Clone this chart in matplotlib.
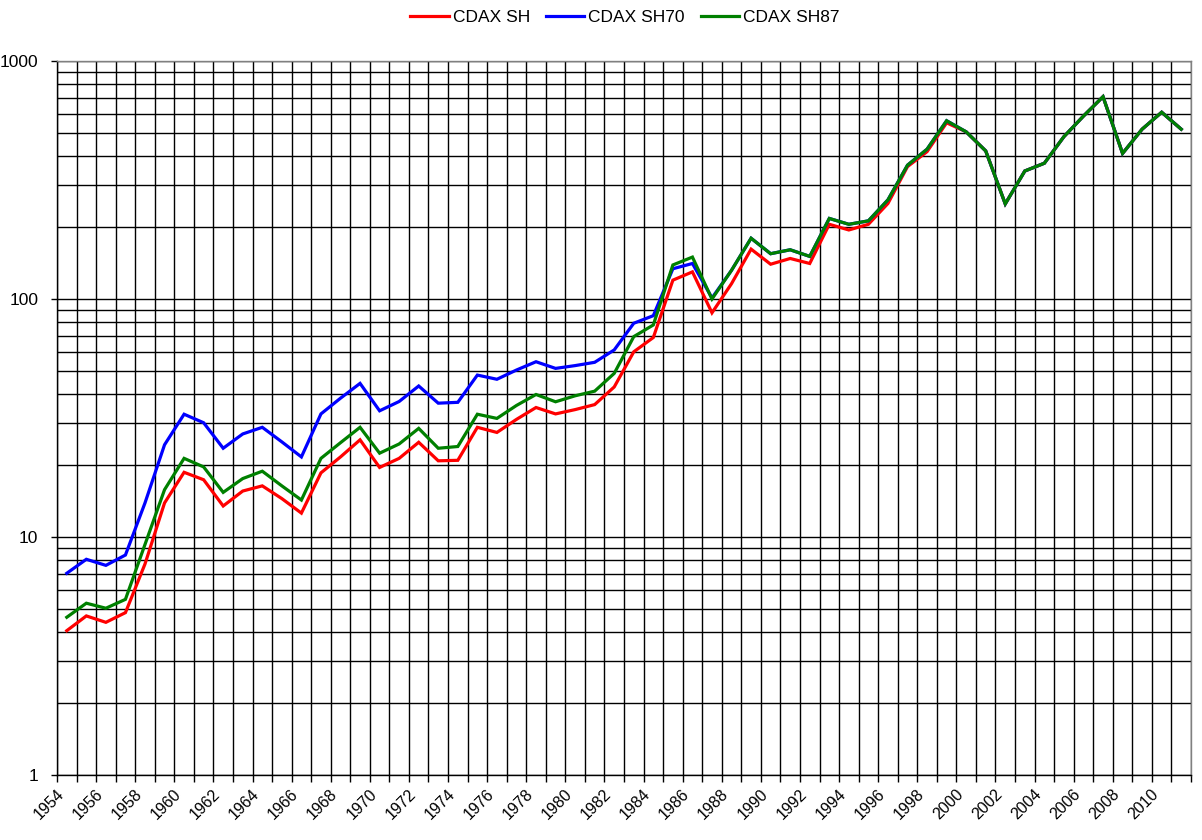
import matplotlib
matplotlib.use("Agg")
import matplotlib.pyplot as plt
from matplotlib.ticker import FixedLocator, NullFormatter, FixedFormatter
import numpy as np

plt.rcParams['font.family'] = ['Liberation Sans', 'DejaVu Sans']

years = list(range(1954, 2012))

cdax_sh = [4.04, 4.66, 4.38, 4.81, 7.7, 13.9, 18.7, 17.4, 13.5, 15.6,
           16.4, 14.5, 12.6, 18.6, 21.7, 25.6, 19.6, 21.4, 25.0, 20.9,
           21.0, 28.9, 27.5, 31.2, 35.0, 32.9, 34.3, 36.0, 42.7, 60.0,
           68.9, 120, 130, 87.5, 116, 162, 140, 148, 141, 206,
           195, 206, 252, 360, 416, 550, 504, 419, 251, 345,
           372, 481, 587, 708, 409, 517, 609, 517]

cdax_sh70 = [7.04, 8.06, 7.6, 8.4, 13.9, 24.4, 32.8, 30.2, 23.6, 27.1,
             28.9, 25.1, 21.7, 32.9, 38.3, 44.2, 33.9, 37.1, 43.1, 36.5,
             36.8, 47.9, 46.0, 50.3, 54.5, 51.1, 52.5, 54.2, 61.1, 79.1,
             85.1, 134, 141, 101, 132, 180, 155, 161, 151, 218,
             206, 213, 261, 365, 426, 561, 504, 419, 251, 345,
             372, 481, 587, 708, 409, 517, 609, 517]

cdax_sh87 = [4.6, 5.27, 5.02, 5.47, 9.3, 15.8, 21.4, 19.7, 15.4, 17.6,
             18.9, 16.4, 14.3, 21.4, 24.9, 28.9, 22.5, 24.6, 28.6, 23.6,
             24.0, 32.8, 31.5, 35.7, 39.7, 37.0, 39.2, 41.0, 48.7, 69.5,
             77.8, 139, 150, 100, 132, 180, 155, 161, 151, 218,
             206, 213, 261, 365, 426, 561, 504, 419, 251, 345,
             372, 481, 587, 708, 409, 517, 609, 517]

series_names = ['CDAX SH', 'CDAX SH70', 'CDAX SH87']
series_colors = ['#FF0000', '#0000FF', '#008000']
y_ticks = [1, 10, 100, 1000]

fig = plt.figure(figsize=(12.02, 8.40), dpi=100)
ax = fig.add_axes([57/1202, 65/840, (1191-57)/1202, (775-61)/840])

x = np.arange(len(years))
for vals, name, col in zip([cdax_sh, cdax_sh70, cdax_sh87], series_names, series_colors):
    ax.plot(x, vals, color=col, lw=2.3, label=name, solid_joinstyle='miter', zorder=3)

ax.set_yscale('log')
ax.set_ylim(1, 1000)
ax.set_xlim(-0.5, len(years) - 0.5)

# y axis
ax.yaxis.set_major_locator(FixedLocator(y_ticks))
ax.yaxis.set_major_formatter(FixedFormatter([str(t) for t in y_ticks]))
minor_y = [m * 10**d for d in range(0, 3) for m in range(2, 10)]
ax.yaxis.set_minor_locator(FixedLocator(minor_y))
ax.yaxis.set_minor_formatter(NullFormatter())
ax.tick_params(axis='y', which='major', length=4.5, width=1, pad=9, labelsize=12.5, color='black')
ax.tick_params(axis='y', which='minor', length=0)

# x axis: labels every 2 years at category centres, ticks at boundaries
ax.xaxis.set_major_locator(FixedLocator(x[::2]))
ax.xaxis.set_major_formatter(FixedFormatter([str(y) for y in years[::2]]))
ax.xaxis.set_minor_locator(FixedLocator(np.arange(-0.5, len(years), 1.0)))
ax.tick_params(axis='x', which='major', length=0, pad=8, labelsize=11.5)
ax.tick_params(axis='x', which='minor', length=5, width=1, color='black')
for lbl in ax.get_xticklabels():
    lbl.set_rotation(45)
    lbl.set_ha('right')
    lbl.set_va('top')

ax.grid(False)
ax.grid(True, axis='y', which='both', color='black', lw=1.0, zorder=1)
ax.grid(True, axis='x', which='minor', color='black', lw=1.0, zorder=1)
ax.set_axisbelow(True)

for s in ['left', 'bottom']:
    ax.spines[s].set_color('black')
    ax.spines[s].set_linewidth(1.0)
for s in ['top', 'right']:
    ax.spines[s].set_color('#808080')
    ax.spines[s].set_linewidth(1.0)

fig.legend(loc='center', bbox_to_anchor=(625/1202, 1 - 17/840), ncol=3, frameon=False,
           fontsize=12.5, handlelength=2.2, handletextpad=0.25, columnspacing=0.9)

fig.savefig('out.png', dpi=100)
